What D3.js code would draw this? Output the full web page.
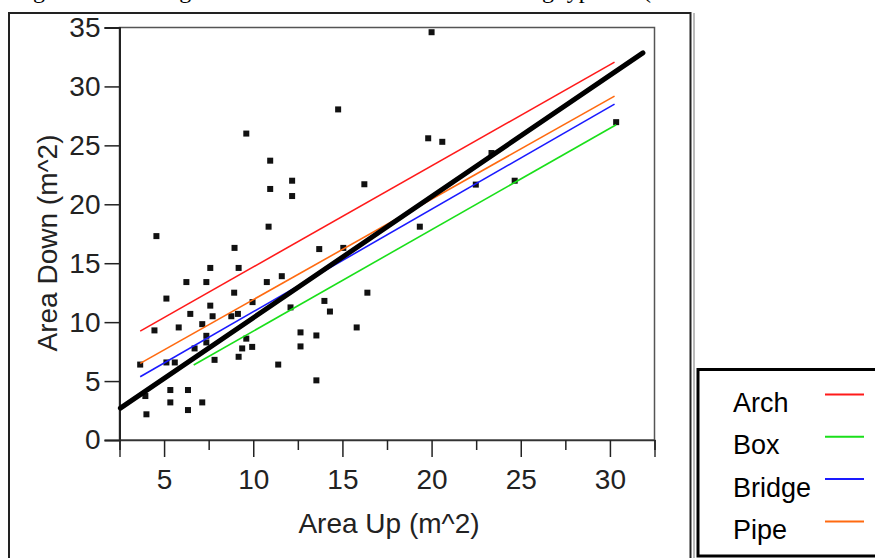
<!DOCTYPE html>
<html>
<head>
<meta charset="utf-8">
<script src="https://cdn.jsdelivr.net/npm/d3@7"></script>
<style>
  html, body { margin: 0; padding: 0; background: #fff; }
  svg { display: block; }
</style>
</head>
<body>
<svg id="chart" width="875" height="558"></svg>
<script>
// Axis ticks
const xMajorTicks = [5, 10, 15, 20, 25, 30];
const xMinorTicks = [2.5, 7.5, 12.5, 17.5, 22.5, 27.5, 32.5];
const yTicks = [0, 5, 10, 15, 20, 25, 30, 35];

// Culvert types shown in the legend
const culvertTypes = ["Arch", "Box", "Bridge", "Pipe"];
const typeColors = ["#ff1a1a", "#1adf1a", "#1a1aff", "#ff6a10"];

// Observed culvert cross-section areas (m^2)
const areaUp = [
  20.0, 14.76, 9.61, 10.95, 10.95, 12.18, 12.18, 16.23, 10.86, 4.57,
  8.95, 7.59, 9.18, 11.6, 6.25, 7.37, 10.76, 5.13, 8.93, 7.59,
  6.47, 7.72, 8.77, 9.14, 9.96, 4.46, 5.82, 7.14, 7.37, 7.37,
  6.71, 5.6, 5.13, 3.66, 7.83, 9.61, 9.38, 9.94, 9.18, 11.4,
  5.35, 6.34, 5.35, 7.14, 6.34, 4.01, 3.95, 13.7, 15.05, 13.99,
  14.3, 12.65, 13.54, 12.65, 13.54, 15.8, 16.4, 12.09, 19.81, 20.6,
  19.34, 23.36, 22.48, 24.66, 30.35
];
const areaDown = [
  34.6, 28.05, 26.0, 23.7, 21.3, 22.0, 20.7, 21.7, 18.1, 17.3,
  16.3, 14.6, 14.6, 13.9, 13.4, 13.4, 13.4, 12.0, 12.5, 11.4,
  10.7, 10.5, 10.5, 10.7, 11.7, 9.3, 9.55, 9.83, 8.84, 8.28,
  7.77, 6.58, 6.58, 6.4, 6.8, 8.6, 7.77, 7.9, 7.06, 6.4,
  4.24, 4.24, 3.19, 3.19, 2.54, 2.18, 3.73, 16.2, 16.3, 11.8,
  10.9, 9.13, 8.87, 7.94, 5.06, 9.55, 12.5, 11.25, 25.6, 25.3,
  18.1, 24.35, 21.67, 22.0, 26.97
];

// Fitted lines: [start, end] as [area up, area down]
const fitArch = [[3.66, 9.24], [30.26, 32.06]];
const fitBox = [[6.66, 6.36], [30.35, 26.75]];
const fitBridge = [[3.66, 5.37], [30.26, 28.5]];
const fitPipe = [[3.66, 6.5], [30.26, 29.18]];
const fitAll = [[2.55, 2.7], [31.85, 32.85]];

const typeFits = [fitArch, fitBox, fitBridge, fitPipe];

const svg = d3.select("#chart");

// Caption running above the figure frame
svg.append("text")
  .attr("x", 13)
  .attr("y", -2)
  .attr("font-family", "'Liberation Serif', 'Times New Roman', serif")
  .attr("font-size", 24)
  .attr("fill", "#000")
  .text("Figure 10. The regression lines for the different crossing types");
svg.append("text")
  .attr("x", 643)
  .attr("y", -2)
  .attr("font-family", "'Liberation Serif', 'Times New Roman', serif")
  .attr("font-size", 24)
  .attr("fill", "#000")
  .text("(");

// Figure frame
const frame = svg.append("g").attr("fill", "none");
frame.append("path")
  .attr("d", "M9,558 V13 H690.5 V558")
  .attr("stroke", "#222").attr("stroke-width", 2);
frame.append("line")
  .attr("x1", 694).attr("x2", 694).attr("y1", 13).attr("y2", 558)
  .attr("stroke", "#777").attr("stroke-width", 1);

const x = d3.scaleLinear().domain([2.5, 32.5]).range([119.5, 654.5]);
const y = d3.scaleLinear().domain([0, 35]).range([440, 27.5]);

const font = "'Liberation Sans', Arial, sans-serif";

// Plot border
svg.append("rect")
  .attr("x", x(2.5)).attr("y", y(35))
  .attr("width", x(32.5) - x(2.5)).attr("height", y(0) - y(35))
  .attr("fill", "none").attr("stroke", "#555").attr("stroke-width", 1.5);

// Y axis
const yAxis = svg.append("g")
  .attr("transform", `translate(${x(2.5)},0)`)
  .call(d3.axisLeft(y).tickValues(yTicks).tickSize(15).tickPadding(4));
yAxis.select(".domain").attr("stroke", "#222").attr("stroke-width", 2);
yAxis.selectAll(".tick line").attr("stroke", "#222").attr("stroke-width", 1.5);
yAxis.selectAll(".tick text")
  .attr("font-family", font).attr("font-size", 28).attr("fill", "#222");

// X axis: labelled major ticks and shorter minor ticks
const xAxis = svg.append("g")
  .attr("transform", `translate(0,${y(0)})`)
  .call(d3.axisBottom(x).tickValues(xMajorTicks).tickSize(17).tickPadding(12));
xAxis.select(".domain").attr("stroke", "#333").attr("stroke-width", 1.5);
xAxis.selectAll(".tick line").attr("stroke", "#222").attr("stroke-width", 1.5);
xAxis.selectAll(".tick text")
  .attr("font-family", font).attr("font-size", 28).attr("fill", "#222");

const xMinor = svg.append("g")
  .attr("transform", `translate(0,${y(0)})`)
  .call(d3.axisBottom(x).tickValues(xMinorTicks).tickSize(10).tickFormat(""));
xMinor.select(".domain").remove();
xMinor.selectAll(".tick line").attr("stroke", "#222").attr("stroke-width", 1.5);

// Axis titles
svg.append("text")
  .attr("x", 389).attr("y", 533)
  .attr("text-anchor", "middle")
  .attr("font-family", font).attr("font-size", 28).attr("fill", "#222")
  .text("Area Up (m^2)");
svg.append("text")
  .attr("transform", "translate(57,243) rotate(-90)")
  .attr("text-anchor", "middle")
  .attr("font-family", font).attr("font-size", 28).attr("fill", "#222")
  .text("Area Down (m^2)");

// Observations
const points = areaUp.map((u, i) => ({ up: u, down: areaDown[i] }));
svg.append("g")
  .selectAll("rect")
  .data(points)
  .join("rect")
  .attr("x", d => x(d.up) - 3)
  .attr("y", d => y(d.down) - 3)
  .attr("width", 6)
  .attr("height", 6)
  .attr("fill", "#111");

// Regression lines by culvert type, then the pooled fit on top
const line = d3.line().x(d => x(d[0])).y(d => y(d[1]));
svg.append("g")
  .selectAll("path")
  .data(typeFits)
  .join("path")
  .attr("d", line)
  .attr("fill", "none")
  .attr("stroke", (d, i) => typeColors[i])
  .attr("stroke-width", 1.6);

svg.append("path")
  .attr("d", line(fitAll))
  .attr("fill", "none")
  .attr("stroke", "#000")
  .attr("stroke-width", 5)
  .attr("stroke-linecap", "round");

// Legend
const legend = svg.append("g");
legend.append("rect")
  .attr("x", 698).attr("y", 369.5)
  .attr("width", 200).attr("height", 186.5)
  .attr("fill", "#fff").attr("stroke", "#000").attr("stroke-width", 3);

const rows = legend.selectAll("g.row")
  .data(culvertTypes)
  .join("g")
  .attr("class", "row")
  .attr("transform", (d, i) => `translate(0,${412 + i * 42.3})`);
rows.append("text")
  .attr("x", 733).attr("y", 0)
  .attr("font-family", font).attr("font-size", 27).attr("fill", "#000")
  .text(d => d);
rows.append("line")
  .attr("x1", 825).attr("x2", 864)
  .attr("y1", -17.5).attr("y2", -17.5)
  .attr("stroke", (d, i) => typeColors[i])
  .attr("stroke-width", 2);
</script>
</body>
</html>
